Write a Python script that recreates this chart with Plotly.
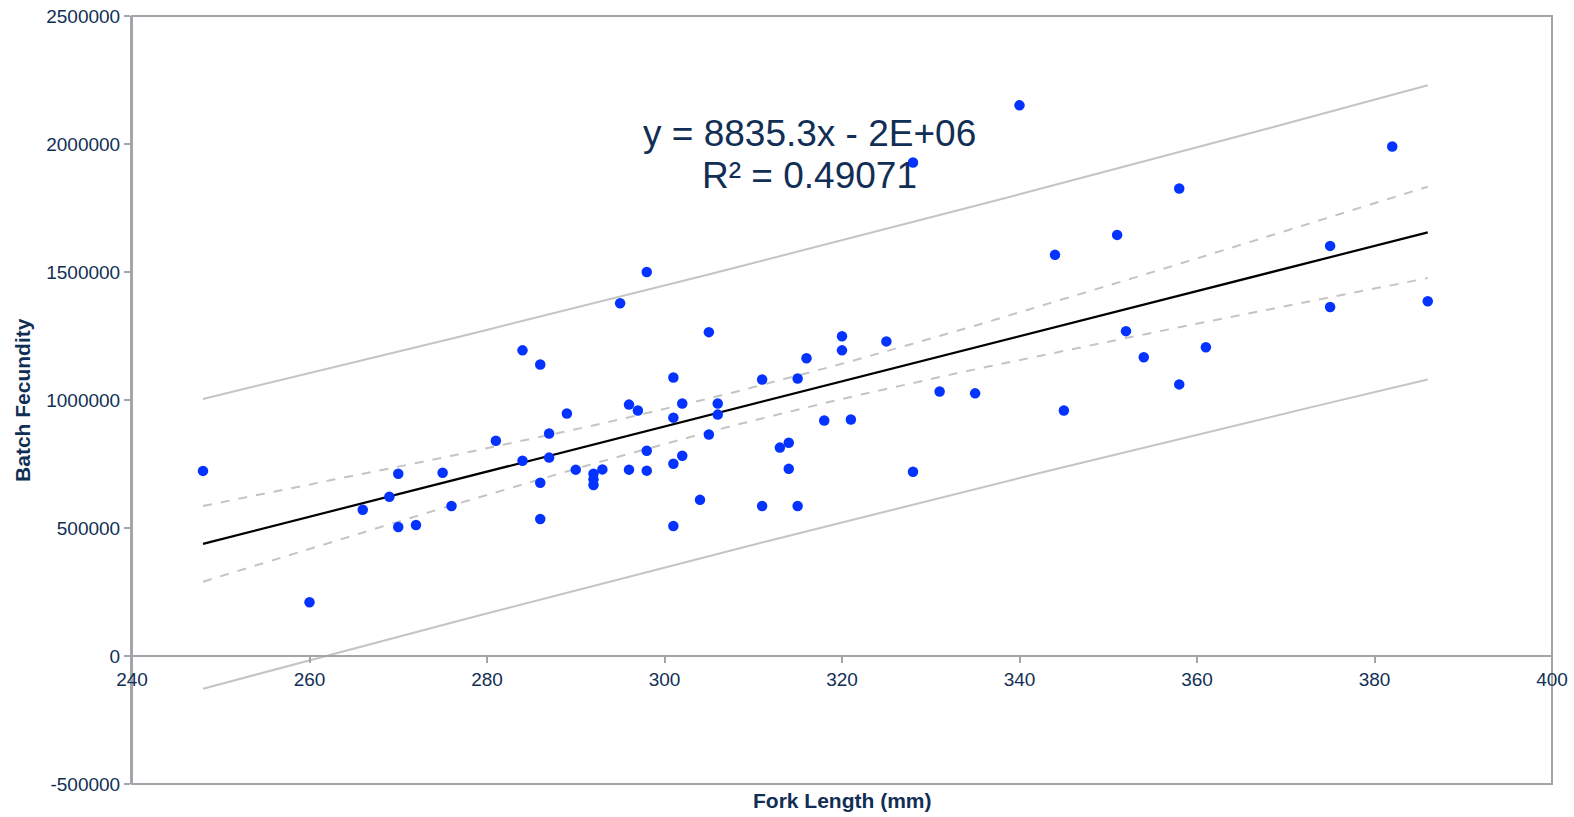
import numpy as np
import plotly.graph_objects as go

# Fork length (mm)
fork_length = [248, 260, 266, 269, 270, 270, 272, 275, 276, 281,
               284, 284, 286, 286, 286, 287, 287, 289, 290, 292,
               292, 292, 293, 295, 296, 296, 297, 298, 298, 298,
               301, 301, 301, 301, 302, 302, 304, 305, 305, 306,
               306, 311, 311, 313, 314, 314, 315, 315, 316, 318,
               320, 320, 321, 325, 328, 328, 331, 335, 340, 344,
               345, 351, 352, 354, 358, 358, 361, 375, 375, 382, 386]
# Batch fecundity
batch_fecundity = [723000, 210000, 571000, 622000, 712000, 504000, 512000, 716000, 586000, 841000,
                   1194000, 763000, 1139000, 677000, 535000, 869000, 775000, 947000, 728000, 712000,
                   690000, 668000, 729000, 1378000, 982000, 728000, 959000, 1500000, 802000, 724000,
                   1088000, 931000, 751000, 508000, 986000, 782000, 610000, 1265000, 865000, 986000,
                   943000, 1080000, 586000, 814000, 833000, 731000, 1084000, 586000, 1163000, 920000,
                   1249000, 1194000, 924000, 1229000, 1928000, 720000, 1033000, 1026000, 2151000, 1567000,
                   959000, 1645000, 1269000, 1167000, 1826000, 1061000, 1206000, 1602000, 1363000, 1990000, 1386000]

x_ticks = [240, 260, 280, 300, 320, 340, 360, 380, 400]
y_ticks = [-500000, 0, 500000, 1000000, 1500000, 2000000, 2500000]
equation_line = "y = 8835.3x - 2E+06"
r2_line = "R² = 0.49071"
t_value = 1.995  # 95% two-sided, df ~ 69

# Regression derived from the data
x = np.array(fork_length, dtype=float)
y = np.array(batch_fecundity, dtype=float)
n = len(x)
slope, intercept = np.polyfit(x, y, 1)
resid = y - (slope * x + intercept)
s = np.sqrt(np.sum(resid ** 2) / (n - 2))
xbar = x.mean()
sxx = np.sum((x - xbar) ** 2)
xg = np.linspace(x.min(), x.max(), 40)
yg = slope * xg + intercept
conf = t_value * s * np.sqrt(1 / n + (xg - xbar) ** 2 / sxx)
pred = t_value * s * np.sqrt(1 + 1 / n + (xg - xbar) ** 2 / sxx)

text_color = "#112f55"
axis_color = "#a3a5ab"
band_color = "#c4c4c4"

fig = go.Figure()
for yy in (yg + pred, yg - pred):
    fig.add_trace(go.Scatter(x=xg, y=yy, mode="lines",
                             line=dict(color=band_color, width=2), hoverinfo="skip"))
for yy in (yg + conf, yg - conf):
    fig.add_trace(go.Scatter(x=xg, y=yy, mode="lines",
                             line=dict(color=band_color, width=2, dash="dash"), hoverinfo="skip"))
fig.add_trace(go.Scatter(x=[xg[0], xg[-1]], y=[yg[0], yg[-1]], mode="lines",
                         line=dict(color="black", width=2.2)))
fig.add_trace(go.Scatter(x=fork_length, y=batch_fecundity, mode="markers",
                         marker=dict(color="#0433ff", size=10.5)))

font_family = "Liberation Sans, Arial, sans-serif"
fig.update_layout(
    width=1574, height=817,
    margin=dict(l=132, r=22, t=16, b=33, autoexpand=False),
    paper_bgcolor="white", plot_bgcolor="white",
    showlegend=False,
    font=dict(family=font_family, color=text_color, size=19),
    xaxis=dict(range=[240, 400], tickvals=x_ticks, ticktext=[str(v) for v in x_ticks],
               showgrid=False, zeroline=False, showline=True, linecolor=axis_color, linewidth=2,
               ticks="outside", ticklen=6, tickcolor=axis_color, tickwidth=1.5,
               anchor="free", position=1 / 6, automargin=False, ticklabeloverflow="allow",
               tickfont=dict(size=19, color=text_color)),
    yaxis=dict(range=[-500000, 2500000], tickvals=y_ticks, ticktext=[str(v) for v in y_ticks],
               showgrid=False, zeroline=False, showline=True, linecolor=axis_color, linewidth=2,
               ticks="outside", ticklen=6, tickcolor=axis_color, tickwidth=1.5, automargin=False,
               ticklabeloverflow="allow",
               tickfont=dict(size=19, color=text_color)),
    shapes=[dict(type="rect", xref="paper", yref="paper", x0=0, x1=1, y0=0, y1=1,
                 line=dict(color=axis_color, width=2), layer="below")],
    annotations=[
        dict(text=equation_line, x=316.3, y=2042000, xref="x", yref="y",
             showarrow=False, align="center", font=dict(size=37, color=text_color)),
        dict(text=r2_line, x=316.3, y=1878000, xref="x", yref="y",
             showarrow=False, align="center", font=dict(size=37, color=text_color)),
        dict(text="<b>Fork Length (mm)</b>", x=0.5, y=-0.021, xref="paper", yref="paper",
             xanchor="center", yanchor="middle", showarrow=False,
             font=dict(size=21, color=text_color)),
        dict(text="<b>Batch Fecundity</b>", x=-0.0775, y=0.5, xref="paper", yref="paper",
             xanchor="center", yanchor="middle", textangle=-90, showarrow=False,
             font=dict(size=21, color=text_color)),
    ],
)

# remove the browser's default 8px body margin so the figure fills the window
fig.write_html("out.html", config={"displayModeBar": False},
               post_script="document.body.style.margin='0';document.body.style.overflow='hidden';")
